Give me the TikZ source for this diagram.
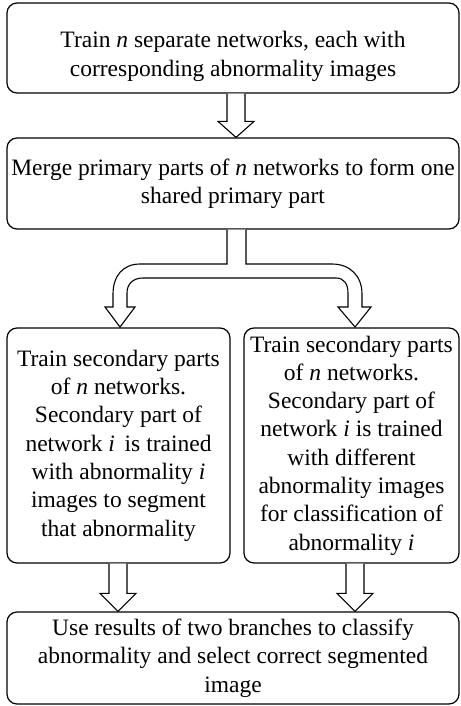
\documentclass[tikz,border=0pt]{standalone}
\usepackage{fontspec}
\setmainfont{Liberation Serif}
\usetikzlibrary{calc}
\begin{document}
\begin{tikzpicture}[x=1pt,y=-1pt,
  box/.style={draw, line width=1.2pt, rounded corners=10pt, align=center,
    inner sep=0pt, font=\fontsize{23.5}{28.3}\selectfont},
  blk/.style={draw, fill=white, line width=1.1pt, line join=miter}]
\useasboundingbox (0,0) rectangle (460,706);
\node[box, minimum width=452pt, minimum height=90pt] (b1) at (233,48)
  {\rule{0pt}{33pt}Train \textit{n} separate networks, each with\\corresponding abnormality images};
\node[box, minimum width=452pt, minimum height=91pt] (b2) at (233,183.5)
  {Merge primary parts of \textit{n} networks to form one\\shared primary part};
\node[box, minimum width=223pt, minimum height=235pt] (b3) at (118.5,445.5)
  {Train secondary parts\\of \textit{n} networks.\\Secondary part of\\network \textit{i}\, is trained\\with abnormality \textit{i}\\images to segment\\that abnormality};
\node[box, minimum width=215pt, minimum height=235pt] (b4) at (351.5,445.5)
  {Train secondary parts\\of \textit{n} networks.\\Secondary part of\\network \textit{i} is trained\\with different\\abnormality images\\for classification of\\abnormality \textit{i}};
\node[box, minimum width=452pt, minimum height=92pt] (b5) at (233,658)
  {Use results of two branches to classify\\abnormality and select correct segmented\\image};
% arrow b1 -> b2
\coordinate (t1) at ($(b2.north)+(3,0)$);
\draw[blk] let \p1=(b1.south), \p2=(t1) in
  (\x2-9pt,\y1) -- (\x2-9pt,\y2+16pt) -- (\x2-18pt,\y2+16pt) -- (\x2,\y2)
  -- (\x2+18pt,\y2+16pt) -- (\x2+9pt,\y2+16pt) -- (\x2+9pt,\y1);
% branch arrow b2 -> b3, b4
\coordinate (tl) at (120,327);
\coordinate (tr) at (355,327);
\draw[blk] ($(b2.south)+(-6,0)$) -- (227,264) -- (140,264)
  .. controls (123,264) and (113,276) .. (113,294) -- (113,307)
  -- (105,307) -- (tl) -- (135,307) -- (127,307) -- (127,293)
  .. controls (127,284) and (133,278) .. (143,278) -- (336,278)
  .. controls (344,278) and (348,284) .. (348,293) -- (348,307)
  -- (338,307) -- (tr) -- (371,307) -- (362,307) -- (362,294)
  .. controls (362,276) and (350,264) .. (332,264) -- (246,264)
  -- ($(b2.south)+(13,0)$);
% arrows b3 -> b5, b4 -> b5
\draw[blk] let \p1=(b3.south), \p2=($(b5.north)+(-115,0)$) in
  (\x2-9pt,\y1) -- (\x2-9pt,\y2+18pt) -- (\x2-18pt,\y2+18pt) -- (\x2,\y2)
  -- (\x2+18pt,\y2+18pt) -- (\x2+9pt,\y2+18pt) -- (\x2+9pt,\y1);
\draw[blk] let \p1=(b4.south), \p2=($(b5.north)+(122,0)$) in
  (\x2-9pt,\y1) -- (\x2-9pt,\y2+18pt) -- (\x2-18pt,\y2+18pt) -- (\x2,\y2)
  -- (\x2+18pt,\y2+18pt) -- (\x2+9pt,\y2+18pt) -- (\x2+9pt,\y1);
\end{tikzpicture}
\end{document}
